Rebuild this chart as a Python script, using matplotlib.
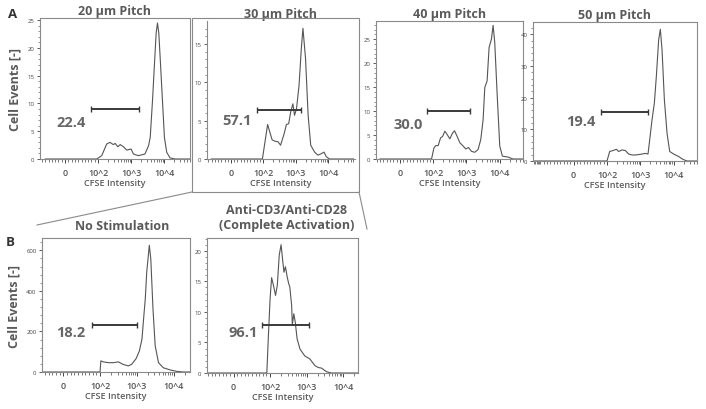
import numpy as np
import matplotlib
matplotlib.use('Agg')
import matplotlib.pyplot as plt
from matplotlib.lines import Line2D
from matplotlib.patches import Rectangle
from matplotlib.ticker import FixedLocator, NullFormatter

plt.rcParams['font.family'] = ['Open Sans', 'DejaVu Sans']

W, H = 706, 410

# ---- data (CFSE intensity vs cell events) ----
titles = ['20 \u00b5m Pitch', '30 \u00b5m Pitch', '40 \u00b5m Pitch', '50 \u00b5m Pitch',
          'No Stimulation', 'Anti-CD3/Anti-CD28\n(Complete Activation)']

x_20 = [-60, 96, 129, 182, 229, 288, 331, 398, 468, 589, 741, 1000, 1175, 1660, 2630, 3388,
        3802, 4467, 5129, 5754, 6310, 6918, 7762, 8913, 10233, 12023, 15136, 21380, 60000]
y_20 = [0, 0, 0.6, 2.7, 3.0, 2.6, 2.8, 2.2, 2.6, 2.2, 1.6, 1.8, 0.9, 0.6, 0.9, 2.4,
        3.9, 10.6, 17.3, 22.7, 24.5, 22.7, 17.3, 10.6, 3.9, 1.2, 0.2, 0, 0]

x_30 = [-60, 97, 112, 135, 158, 186, 234, 282, 339, 437, 513, 603, 692, 813, 912, 1047, 1259,
        1479, 1660, 1995, 2399, 2884, 3802, 4786, 6166, 7413, 8710, 10965, 60000]
y_30 = [0, 0, 2.25, 4.5, 3.5, 2.5, 2.3, 2.25, 1.8, 3.3, 4.5, 4.6, 6.1, 7.2, 5.7, 6.5, 9.6,
        14.4, 17.05, 13.1, 5.7, 1.8, 0.9, 0.5, 0.7, 0.9, 0.3, 0, 0]

x_40 = [-60, 95, 105, 120, 141, 166, 191, 224, 263, 316, 380, 437, 525, 631, 794, 955, 1148,
        1413, 1778, 2239, 2692, 3162, 3548, 4169, 4786, 5623, 6310, 7079, 8318, 10000, 12023,
        17783, 25119, 50000]
y_40 = [0, 0, 2.3, 2.8, 2.8, 4.4, 4.7, 5.8, 5.1, 4.2, 5.4, 5.9, 4.7, 3.4, 2.7, 2.1, 2.4,
        1.6, 1.4, 2.0, 4.1, 8.2, 14.9, 16.3, 23.3, 25.0, 27.9, 24.3, 13.8, 2.7, 0.6,
        0.4, 0, 0]

x_50 = [-160, 100, 120, 151, 191, 224, 282, 355, 447, 562, 708, 1000, 1413, 1698, 1905, 2239,
        2630, 3020, 3548, 3981, 4467, 5248, 6310, 7586, 10000, 14125, 19055, 25119, 50000]
y_50 = [0, 0, 3.0, 3.3, 3.7, 3.0, 3.5, 3.3, 2.2, 1.9, 1.9, 2.1, 2.4, 2.2, 6.7, 13.0,
        18.3, 26.8, 38.4, 41.6, 35.2, 19.4, 8.8, 3.0, 2.2, 1.4, 0.5, 0, 0]

x_nostim = [-55, 100, 105, 123, 170, 229, 316, 417, 589, 724, 955, 1175, 1380, 1514, 1698,
            1862, 2188, 2399, 2754, 3162, 3890, 5248, 8128, 12303, 18621, 28000]
y_nostim = [0, 0, 55, 50, 46, 46, 50, 38, 30, 38, 66, 104, 162, 253, 360,
            493, 625, 559, 311, 129, 46, 21, 10, 3, 0, 0]

x_cd3 = [-70, 91, 95, 100, 110, 123, 141, 158, 178, 200, 219, 240, 263, 295, 324, 347, 389,
         407, 447, 490, 550, 661, 891, 1230, 1698, 2089, 2570, 3548, 4786, 25000]
y_cd3 = [0, 0, 5.6, 12.2, 15.6, 14.4, 12.7, 14.4, 19.3, 21.0, 18.7, 16.5, 17.4, 15.7, 14.6,
         14.1, 11.1, 7.9, 9.7, 8.3, 5.6, 3.9, 2.8, 2.3, 1.2, 0.9, 0.8, 0.2, 0, 0]

# gate (start, end, height) and gate percentage
gates = [(78, 1738, 9.0), (81, 1413, 6.45), (80, 1318, 10.0),
         (82, 1698, 15.6), (79, 1000, 233), (77, 1175, 7.9)]
gate_pct = ['22.4', '57.1', '30.0', '19.4', '18.2', '96.1']
pct_pos = [(17, 6.7), (19, 5.15), (25, 7.2), (20, 12.5), (21, 195), (27, 6.7)]

xlims = [(-76, 61000), (-74, 67000), (-72, 50000), (-166, 50000), (-58, 28000), (-73, 25700)]
ylims = [(0, 25.4), (0, 18), (0, 28.8), (0, 43.9), (0, 661), (0, 22.1)]
yticks = [[0, 5, 10, 15, 20, 25], [0, 5, 10, 15], [0, 5, 10, 15, 20, 25],
          [0, 10, 20, 30, 40], [0, 200, 400, 600], [0, 5, 10, 15, 20]]
xtick_vals = [0, 100, 1000, 10000]
xtick_labels = ['0', '10^2', '10^3', '10^4']

xs = [x_20, x_30, x_40, x_50, x_nostim, x_cd3]
ys = [y_20, y_30, y_40, y_50, y_nostim, y_cd3]

# axes boxes in pixels: left, top, right, bottom
boxes = [(40, 19, 190, 160), (207, 22, 355, 160), (376, 22, 523, 160),
         (533, 23, 697, 162), (42, 239, 190, 373), (207, 239, 358, 374)]

grey = '#5a5a5a'
line_c = '#555555'

fig = plt.figure(figsize=(W / 100, H / 100), dpi=100)

minor_x = list(range(-150, 0, 10)) + list(range(10, 100, 10)) + \
    [m * 10 ** k for k in (2, 3, 4) for m in range(2, 10)]

for i in range(6):
    l, t, r, b = boxes[i]
    ax = fig.add_axes([l / W, 1 - b / H, (r - l) / W, (b - t) / H])
    ax.plot(xs[i], ys[i], color=line_c, lw=0.8)
    ax.set_xscale('symlog', linthresh=100, linscale=0.9)
    ax.set_xlim(*xlims[i])
    ax.set_ylim(*ylims[i])
    ax.set_xticks(xtick_vals)
    ax.set_xticklabels(xtick_labels)
    ax.xaxis.set_minor_locator(FixedLocator(minor_x))
    ax.xaxis.set_minor_formatter(NullFormatter())
    ax.set_yticks(yticks[i])
    step = yticks[i][1] - yticks[i][0]
    ax.yaxis.set_minor_locator(FixedLocator(np.arange(0, ylims[i][1], step / 5)))
    ax.tick_params(axis='x', which='major', length=3, width=0.7, color='#444444',
                   labelsize=6.5, labelcolor='#555555', pad=3.5)
    ax.tick_params(axis='x', which='minor', length=1.8, width=0.5, color='#444444')
    ax.tick_params(axis='y', which='major', length=2.5, width=0.6, color='#444444',
                   labelsize=4.3, labelcolor='#444444', pad=1.5)
    ax.tick_params(axis='y', which='minor', length=1.2, width=0.4, color='#444444')
    for lab in ax.get_xticklabels():
        lab.set_fontweight('semibold')
    for s in ax.spines.values():
        s.set_color('#8a8a8a')
        s.set_linewidth(0.8)
    if i == 1:
        ax.spines['top'].set_visible(False)
        ax.spines['right'].set_visible(False)
    ax.set_xlabel('CFSE Intensity', fontsize=6.5, color=grey, fontweight='semibold', labelpad=1)

    g0, g1, gy = gates[i]
    ax.plot([g0, g1], [gy, gy], color='#3a3a3a', lw=1.4, solid_capstyle='butt')
    ax.plot([g0, g1], [gy, gy], ls='none', marker='|', ms=4.5, mew=1.0, color='#3a3a3a')
    px, py = pct_pos[i]
    ax.text(px, py, gate_pct[i], fontsize=10.5, fontweight='bold', color='#666666',
            ha='center', va='center')

    if i < 4:
        ax.set_title(titles[i], fontsize=9, fontweight='bold', color=grey, pad=3)
    if i in (0, 4):
        ax.set_ylabel('Cell Events [-]', fontsize=9, fontweight='bold', color=grey, labelpad=4)

# titles of panel B
fig.text(122 / W, 1 - 227 / H, titles[4], fontsize=9, fontweight='bold', color=grey,
         ha='center', va='center')
fig.text(287 / W, 1 - 218 / H, titles[5], fontsize=9, fontweight='bold', color=grey,
         ha='center', va='center', linespacing=1.15)

# panel letters
fig.text(8 / W, 1 - 15 / H, 'A', fontsize=9.5, fontweight='bold', color='#333333',
         ha='left', va='center')
fig.text(6 / W, 1 - 243 / H, 'B', fontsize=9.5, fontweight='bold', color='#333333',
         ha='left', va='center')

# frame around the 30 um panel and zoom lines
fig.add_artist(Rectangle((192 / W, 1 - 193 / H), (359 - 192) / W, (193 - 19) / H,
                         transform=fig.transFigure, fill=False, ec='#8a8a8a', lw=0.8))
fig.add_artist(Line2D([192 / W, 37 / W], [1 - 193 / H, 1 - 226 / H],
                      transform=fig.transFigure, color='#8a8a8a', lw=0.8))
fig.add_artist(Line2D([359 / W, 367 / W], [1 - 193 / H, 1 - 230 / H],
                      transform=fig.transFigure, color='#8a8a8a', lw=0.8))

fig.savefig('out.png', dpi=100)
